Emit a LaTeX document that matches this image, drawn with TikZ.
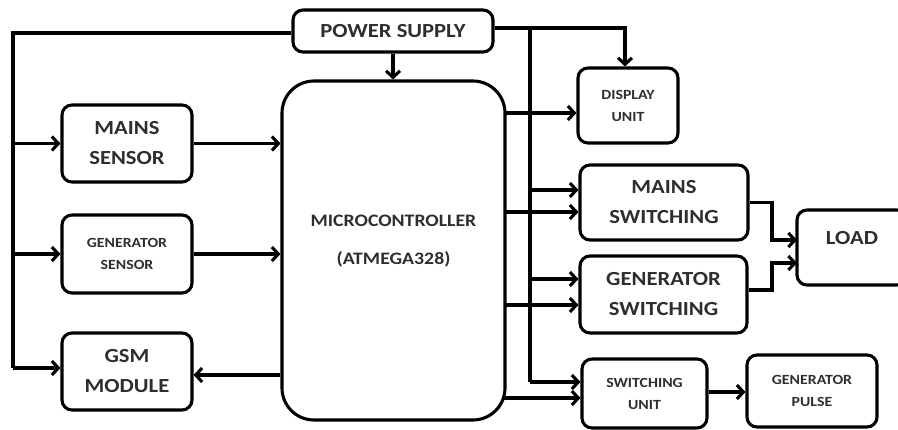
\documentclass[tikz,border=0pt]{standalone}
\usepackage{fontspec}
\setmainfont{Carlito}[FakeStretch=1.13]
\usetikzlibrary{arrows.meta}
\definecolor{txt}{HTML}{2E2E2E}
\begin{document}
\begin{tikzpicture}[x=1pt,y=-1pt,
  blk/.style={draw,line width=3.1pt,rounded corners=10pt,inner sep=0pt,align=center,text=txt},
  big/.style={font=\bfseries\fontsize{20}{30}\selectfont,text=txt,align=center},
  small/.style={font=\bfseries\fontsize{14}{22}\selectfont,text=txt,align=center},
  mcufont/.style={font=\bfseries\fontsize{17.5}{38}\selectfont,text=txt,align=center},
  wire/.style={line width=3.1pt},
  arr/.style={wire,-{Straight Barb[length=6.5pt,width=14pt]}},
]
\useasboundingbox (0,0) rectangle (898,430);
\clip (0,0) rectangle (898,430);

% blocks
\node[blk,big,minimum width=200pt,minimum height=42pt] (ps) at (393,31) {POWER SUPPLY};
\node[blk,rounded corners=32pt,minimum width=223pt,minimum height=339pt,
      label={[mcufont,yshift=9.5pt]center:MICROCONTROLLER\\(ATMEGA328)}] (mcu) at (393.5,250.5) {};
\node[blk,big,minimum width=130pt,minimum height=77pt] (ms) at (127,143.5) {MAINS\\SENSOR};
\node[blk,small,minimum width=130pt,minimum height=78pt] (gs) at (127,254) {GENERATOR\\SENSOR};
\node[blk,big,minimum width=130pt,minimum height=77pt] (gsm) at (127,371.5) {GSM\\MODULE};
\node[blk,small,minimum width=100pt,minimum height=75pt] (du) at (628,105.5) {DISPLAY\\UNIT};
\node[blk,big,minimum width=168pt,minimum height=75pt] (msw) at (664,202.5) {MAINS\\SWITCHING};
\node[blk,big,minimum width=167pt,minimum height=77pt] (gsw) at (663.5,294.5) {GENERATOR\\SWITCHING};
\node[blk,minimum width=110pt,minimum height=75pt,
      label={[big,yshift=9.5pt]center:LOAD}] (load) at (852,247.5) {};
\node[blk,small,minimum width=125pt,minimum height=69pt] (su) at (644.5,393.5) {SWITCHING\\UNIT};
\node[blk,small,minimum width=130pt,minimum height=72pt] (gp) at (812,391) {GENERATOR\\PULSE};

% left power bus
\coordinate (Lt) at (13,33);
\coordinate (Lb) at (13,368);
\draw[wire] ([yshift=-2pt]ps.west) -- (Lt) -- (Lb);
\draw[arr] (Lb) -- (Lb -| gsm.west);
\draw[arr] (Lt |- ms.west) -- (ms.west);
\draw[arr] (Lt |- gs.west) -- (gs.west);

% power to MCU
\draw[arr] (ps.south) -- (ps.south |- mcu.north);

% sensors to MCU, MCU to GSM
\draw[arr] (ms.east) -- (ms.east -| mcu.west);
\draw[arr] (gs.east) -- (gs.east -| mcu.west);
\draw[arr] ([yshift=-3.5pt]gsm.east -| mcu.west) -- ([yshift=-3.5pt]gsm.east);

% right power bus
\coordinate (Rt) at (530,28);
\coordinate (R1) at (530,190);
\coordinate (R2) at (530,279);
\coordinate (Rb) at (530,382);
\draw[arr] ([yshift=3pt]ps.east) -| ([xshift=-3pt]du.north);
\draw[wire] (Rt) -- (Rb);
\draw[arr] (R1) -- (R1 -| msw.west);
\draw[arr] (R2) -- (R2 -| gsw.west);
\draw[arr] (Rb) -- (Rb -| su.west);

% MCU outputs
\coordinate (M1) at (505,113);
\coordinate (M2) at (505,212);
\coordinate (M3) at (505,305);
\coordinate (M4) at (503,398);
\draw[arr] (M1) -- (M1 -| du.west);
\draw[arr] (M2) -- (M2 -| msw.west);
\draw[arr] (M3) -- (M3 -| gsw.west);
\draw[arr] (M4) -- (M4 -| su.west);

% switching to load
\coordinate (J) at (772,0);
\coordinate (L1) at (797,240);
\coordinate (L2) at (797,263);
\draw[arr] (msw.east) -| (J |- L1) -- (L1);
\draw[arr] ([yshift=4.5pt]gsw.east) -| (J |- L2) -- (L2);

% switching unit to generator pulse
\draw[arr] ([yshift=1.5pt]su.east) -- ([yshift=1.5pt]su.east -| gp.west);
\end{tikzpicture}
\end{document}
